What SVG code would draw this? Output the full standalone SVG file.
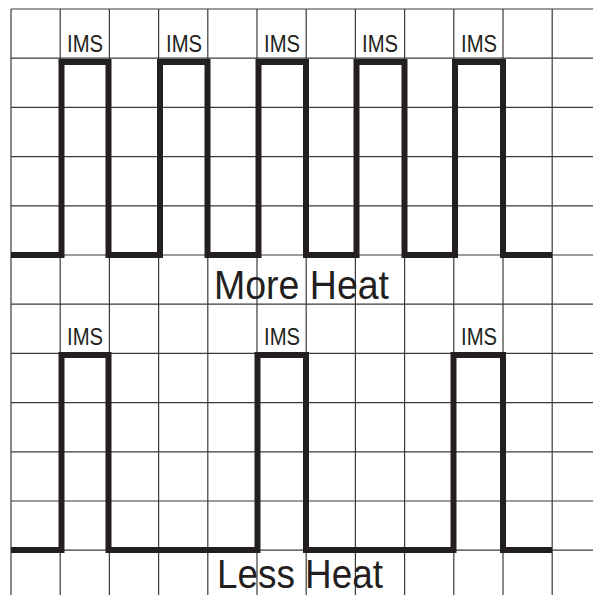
<svg xmlns="http://www.w3.org/2000/svg" width="593" height="595" viewBox="0 0 593 595">
<style>
.grid line{stroke:#3a3a3a;stroke-width:1.2}
.wave{fill:none;stroke:#231f20;stroke-width:6;stroke-linejoin:miter;stroke-linecap:butt}
.ims{font-family:"Liberation Sans",Arial,sans-serif;font-size:24px;fill:#231f20}
.big{font-family:"Liberation Sans",Arial,sans-serif;font-size:40px;fill:#231f20}
</style>
<rect width="593" height="595" fill="#ffffff"/>
<g class="grid" id="grid">
<line x1="11" y1="9" x2="593" y2="9"/>
<line x1="11" y1="58.2" x2="593" y2="58.2"/>
<line x1="11" y1="107.4" x2="593" y2="107.4"/>
<line x1="11" y1="156.6" x2="593" y2="156.6"/>
<line x1="11" y1="205.8" x2="593" y2="205.8"/>
<line x1="11" y1="255" x2="593" y2="255"/>
<line x1="11" y1="304.2" x2="593" y2="304.2"/>
<line x1="11" y1="353.4" x2="593" y2="353.4"/>
<line x1="11" y1="402.6" x2="593" y2="402.6"/>
<line x1="11" y1="451.8" x2="593" y2="451.8"/>
<line x1="11" y1="501" x2="593" y2="501"/>
<line x1="11" y1="550.2" x2="593" y2="550.2"/>
<line x1="11" y1="9" x2="11" y2="595"/>
<line x1="60.2" y1="9" x2="60.2" y2="595"/>
<line x1="109.4" y1="9" x2="109.4" y2="595"/>
<line x1="158.6" y1="9" x2="158.6" y2="595"/>
<line x1="207.8" y1="9" x2="207.8" y2="595"/>
<line x1="257" y1="9" x2="257" y2="595"/>
<line x1="306.2" y1="9" x2="306.2" y2="595"/>
<line x1="355.4" y1="9" x2="355.4" y2="595"/>
<line x1="404.6" y1="9" x2="404.6" y2="595"/>
<line x1="453.8" y1="9" x2="453.8" y2="595"/>
<line x1="503" y1="9" x2="503" y2="595"/>
<line x1="552.2" y1="9" x2="552.2" y2="595"/>
</g>
<g id="connectors">
<path id="wave-more" class="wave" d="M11 255 H61.5 V62 H108.5 V255 H160 V62 H207.5 V255 H258.5 V62 H306 V255 H356.5 V62 H404.5 V255 H455 V62 H503 V255 H552"/>
<path id="wave-less" class="wave" d="M11 550 H61.5 V355 H108.5 V550 H257.5 V355 H306 V550 H453.5 V355 H503 V550 H552"/>
</g>
<g id="labels-more">
<text class="ims" x="67" y="52" textLength="36" lengthAdjust="spacingAndGlyphs">IMS</text>
<text class="ims" x="166" y="52" textLength="36" lengthAdjust="spacingAndGlyphs">IMS</text>
<text class="ims" x="264" y="52" textLength="36" lengthAdjust="spacingAndGlyphs">IMS</text>
<text class="ims" x="362" y="52" textLength="36" lengthAdjust="spacingAndGlyphs">IMS</text>
<text class="ims" x="461" y="52" textLength="36" lengthAdjust="spacingAndGlyphs">IMS</text>
<text class="big" x="214" y="299" textLength="175" lengthAdjust="spacingAndGlyphs">More Heat</text>
</g>
<g id="labels-less">
<text class="ims" x="67" y="345" textLength="36" lengthAdjust="spacingAndGlyphs">IMS</text>
<text class="ims" x="264" y="345" textLength="36" lengthAdjust="spacingAndGlyphs">IMS</text>
<text class="ims" x="461" y="345" textLength="36" lengthAdjust="spacingAndGlyphs">IMS</text>
<text class="big" x="217" y="588" textLength="166" lengthAdjust="spacingAndGlyphs">Less Heat</text>
</g>
</svg>
